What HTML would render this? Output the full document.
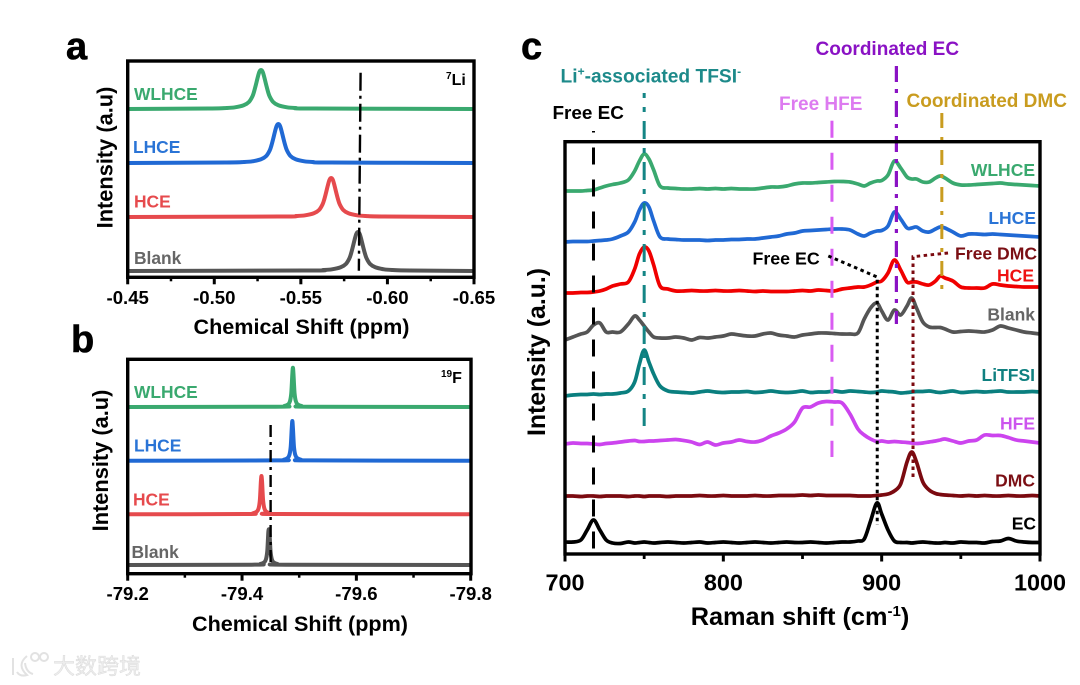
<!DOCTYPE html>
<html lang="en">
<head>
<meta charset="utf-8">
<title>NMR and Raman spectra of electrolytes</title>
<style>
html,body{margin:0;padding:0;background:#fff;}
body{width:1080px;height:685px;overflow:hidden;}
svg{display:block;}
text{font-family:"Liberation Sans","Noto Sans CJK SC",sans-serif;font-weight:bold;}
</style>
</head>
<body>
<svg id="figure" width="1080" height="685" viewBox="0 0 1080 685" xmlns="http://www.w3.org/2000/svg">
  <rect x="0" y="0" width="1080" height="685" fill="#ffffff"/>

  <text x="66" y="59" font-size="38" stroke="#000" stroke-width="0.6">a</text>
  <text x="71" y="352" font-size="38" stroke="#000" stroke-width="0.6">b</text>
  <text x="521" y="59" font-size="38" stroke="#000" stroke-width="0.6">c</text>

  <g id="panel-a"></g>
  <g id="panel-b"></g>
  <g id="panel-c"></g>

  <!-- Panel a static text -->
  <text transform="translate(112.5,157.5) rotate(-90)" text-anchor="middle" font-size="21.8">Intensity (a.u)</text>
  <text x="301.5" y="334" text-anchor="middle" font-size="21.6">Chemical Shift (ppm)</text>
  <text x="134" y="100" font-size="17.4" fill="#3aa96f">WLHCE</text>
  <text x="133" y="153" font-size="17.4" fill="#2a74d6">LHCE</text>
  <text x="134" y="207.5" font-size="17.4" fill="#e64a4d">HCE</text>
  <text x="134" y="264" font-size="17.4" fill="#666666">Blank</text>
  <text x="446" y="85" font-size="16"><tspan font-size="10" dy="-6">7</tspan><tspan dy="6">Li</tspan></text>

  <!-- Panel b static text -->
  <text transform="translate(108,460.5) rotate(-90)" text-anchor="middle" font-size="21.8">Intensity (a.u)</text>
  <text x="300" y="631" text-anchor="middle" font-size="21.6">Chemical Shift (ppm)</text>
  <text x="134" y="398" font-size="17.4" fill="#3aa96f">WLHCE</text>
  <text x="134" y="451.5" font-size="17.4" fill="#2a74d6">LHCE</text>
  <text x="133" y="505.5" font-size="17.4" fill="#e64a4d">HCE</text>
  <text x="131.5" y="558" font-size="17.4" fill="#666666">Blank</text>
  <text x="441" y="383" font-size="16"><tspan font-size="10" dy="-6">19</tspan><tspan dy="6">F</tspan></text>

  <!-- Panel c static text -->
  <text transform="translate(545,352) rotate(-90)" text-anchor="middle" font-size="24.8">Intensity (a.u.)</text>
  <text x="800" y="625" text-anchor="middle" font-size="25.3">Raman shift (cm<tspan font-size="15" dy="-9">-1</tspan><tspan dy="9">)</tspan></text>
  <text x="552.5" y="119" font-size="18.9">Free EC</text>
  <text x="560.5" y="82.5" font-size="19.2" fill="#1d8a8a">Li<tspan font-size="12" dy="-7">+</tspan><tspan dy="7">-associated TFSI</tspan><tspan font-size="12" dy="-7">-</tspan></text>
  <text x="779" y="110" font-size="19" fill="#dd7bf0">Free HFE</text>
  <text x="815.5" y="55" font-size="19" fill="#8a12c4">Coordinated EC</text>
  <text x="906.5" y="107" font-size="19" fill="#c99c1f">Coordinated DMC</text>
  <text x="752.5" y="264.5" font-size="17.8">Free EC</text>
  <text x="955" y="259.5" font-size="17.6" fill="#7b0f14">Free DMC</text>
  <text x="1035" y="176" text-anchor="end" font-size="17.5" fill="#3aa96f">WLHCE</text>
  <text x="1036" y="224" text-anchor="end" font-size="17.5" fill="#2a74d6">LHCE</text>
  <text x="1034" y="281.5" text-anchor="end" font-size="17.5" fill="#ee1111">HCE</text>
  <text x="1035" y="320.5" text-anchor="end" font-size="17.5" fill="#666666">Blank</text>
  <text x="1035" y="381" text-anchor="end" font-size="17.5" fill="#0f8080">LiTFSI</text>
  <text x="1035" y="429.5" text-anchor="end" font-size="17.5" fill="#cc55ee">HFE</text>
  <text x="1035" y="486.5" text-anchor="end" font-size="17.5" fill="#7b0f14">DMC</text>
  <text x="1036" y="529.5" text-anchor="end" font-size="17.5" fill="#000000">EC</text>

  <!-- Watermark -->
  <g>
    <g fill="none" stroke="#e2e2e2" stroke-width="2">
      <path d="M13 658 L13 675 M27 656 Q16 665 27 675 Q20 677 17 672 M25 663 Q26 672 33 674"/>
      <circle cx="35" cy="657" r="4"/>
      <circle cx="44" cy="657" r="4"/>
    </g>
    <text x="53" y="674" font-size="22" fill="#ececec" stroke="#d8d8d8" stroke-width="0.4" style="font-family:'Liberation Sans','Noto Sans CJK SC',sans-serif;font-weight:normal">大数跨境</text>
  </g>
</svg>

<script>
// ---------- Panel a data (7Li) ----------
const aWlhceShift=[-0.45,-0.497,-0.507,-0.512,-0.517,-0.52,-0.522,-0.523,-0.524,-0.525,-0.526,-0.527,-0.528,-0.529,-0.53,-0.531,-0.532,-0.534,-0.537,-0.542,-0.547,-0.557,-0.65];
const aWlhceIntensity=[168.3,168.8,169.3,170,172,175.3,180.8,185.8,192.3,199.3,205.3,207.3,205.3,199.3,192.3,185.8,180.8,175.3,172,170,169.3,168.8,168.3];
const aLhceShift=[-0.45,-0.507,-0.517,-0.522,-0.527,-0.53,-0.532,-0.533,-0.534,-0.535,-0.536,-0.537,-0.538,-0.539,-0.54,-0.541,-0.542,-0.544,-0.547,-0.552,-0.557,-0.567,-0.65];
const aLhceIntensity=[114.3,114.8,115.3,116,118,121.3,126.8,131.8,138.3,145.3,151.3,153.3,151.3,145.3,138.3,131.8,126.8,121.3,118,116,115.3,114.8,114.3];
const aHceShift=[-0.45,-0.5375,-0.5475,-0.5525,-0.5575,-0.5605,-0.5625,-0.5635,-0.5645,-0.5655,-0.5665,-0.5675,-0.5685,-0.5695,-0.5705,-0.5715,-0.5725,-0.5745,-0.5775,-0.5825,-0.5875,-0.5975,-0.65];
const aHceIntensity=[60.3,60.8,61.3,62,64,67.3,72.8,77.8,84.3,91.3,97.3,99.3,97.3,91.3,84.3,77.8,72.8,67.3,64,62,61.3,60.8,60.3];
const aBlankShift=[-0.45,-0.553,-0.563,-0.568,-0.573,-0.576,-0.578,-0.579,-0.58,-0.581,-0.582,-0.583,-0.584,-0.585,-0.586,-0.587,-0.588,-0.59,-0.593,-0.598,-0.603,-0.613,-0.65];
const aBlankIntensity=[6.3,6.8,7.3,8,10,13.3,18.8,23.8,30.3,37.3,43.3,45.3,43.3,37.3,30.3,23.8,18.8,13.3,10,8,7.3,6.8,6.3];
const aMajorTicks=[-0.45,-0.50,-0.55,-0.60,-0.65];
const aMinorTicks=[-0.475,-0.525,-0.575,-0.625];
const aTickLabels=["-0.45","-0.50","-0.55","-0.60","-0.65"];
const aRefShift=[-0.5845,-0.5835];
const aRefIntensity=[204.6,6.6];

// ---------- Panel b data (19F) ----------
const bWlhceShift=[-79.2,-79.459,-79.474,-79.481,-79.484,-79.486,-79.487,-79.488,-79.489,-79.49,-79.491,-79.492,-79.494,-79.497,-79.504,-79.519,-79.8];
const bWlhceIntensity=[166.7,167,167.7,169.5,172.7,179.7,188.7,199.7,206,199.7,188.7,179.7,172.7,169.5,167.7,167,166.7];
const bLhceShift=[-79.2,-79.458,-79.473,-79.48,-79.483,-79.485,-79.486,-79.487,-79.488,-79.489,-79.49,-79.491,-79.493,-79.496,-79.503,-79.518,-79.8];
const bLhceIntensity=[113,113.3,114,115.8,119,126,135,146,152.7,146,135,126,119,115.8,114,113.3,113];
const bHceShift=[-79.2,-79.404,-79.419,-79.426,-79.429,-79.431,-79.432,-79.433,-79.434,-79.435,-79.436,-79.437,-79.439,-79.442,-79.449,-79.464,-79.8];
const bHceIntensity=[59.4,59.7,60.4,62.2,65.4,72.4,81.4,92.4,97.7,92.4,81.4,72.4,65.4,62.2,60.4,59.7,59.4];
const bBlankShift=[-79.2,-79.417,-79.432,-79.439,-79.442,-79.444,-79.445,-79.446,-79.447,-79.448,-79.449,-79.45,-79.452,-79.455,-79.462,-79.477,-79.8];
const bBlankIntensity=[8.7,9,9.7,11.5,14.7,21.7,30.7,41.7,44.4,41.7,30.7,21.7,14.7,11.5,9.7,9,8.7];
const bMajorTicks=[-79.2,-79.4,-79.6,-79.8];
const bMinorTicks=[-79.3,-79.5,-79.7];
const bTickLabels=["-79.2","-79.4","-79.6","-79.8"];
const bRefShift=[-79.45,-79.45];
const bRefIntensity=[148.7,8.7];

// ---------- Panel c data (Raman) ----------
const ramanShift=[700,705,710,714,718,722,726,730,735,740,
744,747,750,753,756,760,765,770,775,780,
785,790,795,800,805,810,815,820,825,830,
835,840,845,850,855,860,865,870,875,880,
885,889,893,897,900,904,908,912,916,919,
922,926,930,934,937,940,945,950,955,960,
965,970,975,980,985,990,995,1000];
const ramanWlhce=[363,363,363,363.5,364,366,368,369.5,371,374,
383,393,400,395,384,368,366,365.5,365,365,
365.5,365,365.5,365,365.5,365,365,365,366,367,
367,368,370,371,371,371.5,372,372.5,372.5,372,
370,368,371,373,373.5,379,393,386,377,375,
375,372,372,376,378,376,371,369,369,369.5,
370,370.5,371,370,369.5,369,368.5,368];
const ramanLhce=[312,312.5,312.5,312.5,313,313.5,314,315,318,322,
332,344,351,347,333,317,315,314.5,314,314,
314,313.5,314,314,314.5,314.5,315,315,316,317,
318,320,321,323,323.5,324,324.5,325,325,324,
320,318,321,323,323.5,328,342,335,326,326,
327,323,322,325,327,326,322,318,320,320,
319.5,320,319.5,319,318.5,318,317.5,317];
const ramanHce=[261,261,261.5,261.5,262,263,265,268,270,272,
285,300,307,303,289,268,265,263,263,263.5,
263,263,263.5,263,263,263.5,263,262.5,263,262.5,
262.5,262.5,263,263.5,263,264,263.5,263,265,266,
267,267,269,272,273,281,294,284,272,272,
272,270,269,273,278,276,273,267,266,266,
266,270,269,268,267.5,267,267,267];
const ramanBlank=[214,217,220,222,229,231,222,222,222,230,
238,234,228,222,217,216,216,217,216,214,
216.5,216,217,218,220,219,218,218,220,221,
219,218,217,219,220,221,221,220.5,220,220,
221,235,246,251,243,234,244,239,248,256,
246,232,227,226.5,226.5,225,222,222.5,223,222.5,
222,224,228,226,224,222,221,220];
const ramanLitfsi=[158,159,159.5,159.5,160,159.5,160,160,161,163,
172,190,204,192,180,168,163,162,161.5,161,
162,163,162,161.5,162,162,162.5,161.5,162,163,
162,161.5,162,163,161.5,162,162,163,162,163,
162.5,162,161.5,162,163,162.5,162,161,161.5,162,
162.5,162.5,163,162,161.5,162,163,161.5,162,162.5,
162,162.5,163,162,162,162,162.5,162];
const ramanHfe=[110,111,110.5,110.5,110,109.5,110.5,111,112,113,
113.5,112.5,112.5,113,113,113.5,114,114.5,113.5,112,
109.5,112,109,111,112,114,112.5,112,114,118,
121,125,132,146,147,151,152.5,152,151,140,
125,119,115,112.5,113,112,112.5,112,111.5,111,
110.5,111,112,113,114,115,113,111,113,114,
119,118.5,118.5,116.5,114,113,112,111];
const ramanDmc=[58,58,57.5,58,58,57.5,58,58,58,57.5,
58,58,57.5,58,58,58,57.5,58,58,58,
58.5,58,58,58.5,58,58,58,58.5,58,58,
58.5,58.5,58.5,59,58.5,59,58.5,58.5,58.5,58.5,
58,58,58,58.5,59,60,63,70,92,102,
92,72,64,60.5,59.5,59,58.5,58,58.5,58,
58.5,58,58,58.5,58,58,58.5,58];
const ramanEc=[12,12,14,24,34,24,14,11,10.5,12,
11,11.5,12,11.5,11,11.5,12,11.5,11,11.5,
12,11,11.5,12,11.5,11,11.5,12,11.5,11,
11.5,12,11.5,11.5,12,11.5,11,11.5,12,12,
13,15,33,51,40,24,13,11.5,11.5,11,
11.5,12,11.5,11,11,11.5,11,12,11.5,11.5,
11,12.5,13,15.5,13,12,11.5,11.5];
const cMajorTicks=[700,800,900,1000];
const cMinorTicks=[750,850,950];
const cTickLabels=["700","800","900","1000"];
const refFreeEcShift=[718,718];
const refFreeEcIntensity=[423,5];
const refTfsiShift=[750,750];
const refTfsiIntensity=[128,461];
const refHfeShift=[868.6,868.6];
const refHfeIntensity=[433.3,97];
const refCoordEcShift=[909.3,909.3];
const refCoordEcIntensity=[488,230];
const refCoordDmcShift=[938,938];
const refCoordDmcIntensity=[441,257];
const guideEcShift=[866.3,897.2,897.2];
const guideEcIntensity=[298,277,29];
const guideDmcShift=[919.8,919.8,943.4];
const guideDmcIntensity=[77,297.3,301.3];

const SVGNS="http://www.w3.org/2000/svg";

function linear(d0,d1,r0,r1){
  return function(v){return r0+(v-d0)*(r1-r0)/(d1-d0);};
}
function smoothPath(xs,ys){
  let d="M"+xs[0].toFixed(2)+" "+ys[0].toFixed(2);
  for(let i=0;i<xs.length-1;i++){
    const i0=Math.max(0,i-1),i3=Math.min(xs.length-1,i+2);
    const cx1=xs[i]+(xs[i+1]-xs[i0])/6,cy1=ys[i]+(ys[i+1]-ys[i0])/6;
    const cx2=xs[i+1]-(xs[i3]-xs[i])/6,cy2=ys[i+1]-(ys[i3]-ys[i])/6;
    d+=" C"+cx1.toFixed(2)+" "+cy1.toFixed(2)+" "+cx2.toFixed(2)+" "+cy2.toFixed(2)+" "+xs[i+1].toFixed(2)+" "+ys[i+1].toFixed(2);
  }
  return d;
}
function drawCurve(parent,name,shift,vals,xf,yf,color,width){
  const el=document.createElementNS(SVGNS,"path");
  
  
  el.setAttribute("d",smoothPath(shift.map(xf),vals.map(yf)));
  el.setAttribute("fill","none");
  el.setAttribute("stroke",color);
  el.setAttribute("stroke-width",width);
  el.setAttribute("stroke-linejoin","round");
  parent.appendChild(el);
}
function drawRef(parent,name,shift,vals,xf,yf,color,width,dash,offset){
  const el=document.createElementNS(SVGNS,"polyline");
  
  
  el.setAttribute("points",shift.map(function(s,i){return xf(s).toFixed(2)+","+yf(vals[i]).toFixed(2);}).join(" "));
  el.setAttribute("fill","none");
  el.setAttribute("stroke",color);
  el.setAttribute("stroke-width",width);
  el.setAttribute("stroke-dasharray",dash);
  el.setAttribute("stroke-dashoffset",offset||0);
  parent.appendChild(el);
}
function drawFrame(parent,name,l,t,r,b,width){
  const el=document.createElementNS(SVGNS,"rect");
  
  
  el.setAttribute("x",l);
  el.setAttribute("y",t);
  el.setAttribute("width",r-l);
  el.setAttribute("height",b-t);
  el.setAttribute("fill","none");
  el.setAttribute("stroke","#000");
  el.setAttribute("stroke-width",width);
  parent.appendChild(el);
}
function drawTicks(parent,prefix,values,xf,bottom,len,width){
  values.forEach(function(v){
    const el=document.createElementNS(SVGNS,"line");
    
    
    el.setAttribute("x1",xf(v));
    el.setAttribute("x2",xf(v));
    el.setAttribute("y1",bottom);
    el.setAttribute("y2",bottom+len);
    el.setAttribute("stroke","#000");
    el.setAttribute("stroke-width",width);
    parent.appendChild(el);
  });
}
function drawTickLabels(parent,prefix,values,labels,xf,baseline,size){
  values.forEach(function(v,i){
    const el=document.createElementNS(SVGNS,"text");
    
    
    el.setAttribute("x",xf(v));
    el.setAttribute("y",baseline);
    el.setAttribute("text-anchor","middle");
    el.setAttribute("font-size",size);
    el.textContent=labels[i];
    parent.appendChild(el);
  });
}

// Panel a
(function(){
  const g=document.getElementById("panel-a");
  const x=linear(-0.45,-0.65,127.7,474);
  const y=linear(0,216.3,277.3,61);
  drawCurve(g,"panel-a-series-wlhce",aWlhceShift,aWlhceIntensity,x,y,"#3aa96f",4);
  drawCurve(g,"panel-a-series-lhce",aLhceShift,aLhceIntensity,x,y,"#2069d4",4);
  drawCurve(g,"panel-a-series-hce",aHceShift,aHceIntensity,x,y,"#e64a4d",4);
  drawCurve(g,"panel-a-series-blank",aBlankShift,aBlankIntensity,x,y,"#555555",4);
  drawRef(g,"panel-a-reference-line",aRefShift,aRefIntensity,x,y,"#000","2.4","18 5 3 5");
  drawFrame(g,"panel-a-frame",127.7,61,474,277.3,3.4);
  drawTicks(g,"panel-a-x-major",aMajorTicks,x,277.3,7,3);
  drawTicks(g,"panel-a-x-minor",aMinorTicks,x,277.3,4,2.5);
  drawTickLabels(g,"panel-a-x",aMajorTicks,aTickLabels,x,304,18.6);
})();

// Panel b
(function(){
  const g=document.getElementById("panel-b");
  const x=linear(-79.2,-79.8,127.7,470.7);
  const y=linear(0,214.4,573.7,359.3);
  drawCurve(g,"panel-b-series-wlhce",bWlhceShift,bWlhceIntensity,x,y,"#3aa96f",4);
  drawCurve(g,"panel-b-series-lhce",bLhceShift,bLhceIntensity,x,y,"#2069d4",4);
  drawCurve(g,"panel-b-series-hce",bHceShift,bHceIntensity,x,y,"#e64a4d",4);
  drawCurve(g,"panel-b-series-blank",bBlankShift,bBlankIntensity,x,y,"#555555",4);
  drawRef(g,"panel-b-reference-line",bRefShift,bRefIntensity,x,y,"#000","2.4","12 5 3 5");
  drawFrame(g,"panel-b-frame",127.7,359.3,471,573.7,3.4);
  drawTicks(g,"panel-b-x-major",bMajorTicks,x,573.7,7,3);
  drawTicks(g,"panel-b-x-minor",bMinorTicks,x,573.7,4,2.5);
  drawTickLabels(g,"panel-b-x",bMajorTicks,bTickLabels,x,600,18.6);
})();

// Panel c
(function(){
  const g=document.getElementById("panel-c");
  const x=linear(700,1000,565,1040);
  const y=linear(0,412.3,554,141.7);
  drawCurve(g,"panel-c-series-wlhce",ramanShift,ramanWlhce,x,y,"#3aa96f",3.7);
  drawCurve(g,"panel-c-series-lhce",ramanShift,ramanLhce,x,y,"#2069d4",3.7);
  drawCurve(g,"panel-c-series-hce",ramanShift,ramanHce,x,y,"#f00000",3.7);
  drawCurve(g,"panel-c-series-blank",ramanShift,ramanBlank,x,y,"#555555",3.7);
  drawCurve(g,"panel-c-series-litfsi",ramanShift,ramanLitfsi,x,y,"#0a7f7f",3.7);
  drawCurve(g,"panel-c-series-hfe",ramanShift,ramanHfe,x,y,"#cc44ee",3.7);
  drawCurve(g,"panel-c-series-dmc",ramanShift,ramanDmc,x,y,"#7b0a10",3.7);
  drawCurve(g,"panel-c-series-ec",ramanShift,ramanEc,x,y,"#000000",3.7);
  drawRef(g,"reference-free-ec",refFreeEcShift,refFreeEcIntensity,x,y,"#000","3","17 15",15.5);
  drawRef(g,"reference-li-tfsi",refTfsiShift,refTfsiIntensity,x,y,"#148585","3","18 9 5 9");
  drawRef(g,"reference-free-hfe",refHfeShift,refHfeIntensity,x,y,"#d95cf2","3","17 15");
  drawRef(g,"reference-coordinated-ec",refCoordEcShift,refCoordEcIntensity,x,y,"#8a12c4","3.2","16 7 4 8");
  drawRef(g,"reference-coordinated-dmc",refCoordDmcShift,refCoordDmcIntensity,x,y,"#c99c1f","3","15 9 4 9");
  drawRef(g,"guide-free-ec",guideEcShift,guideEcIntensity,x,y,"#000","3","3.5 3.5");
  drawRef(g,"guide-free-dmc",guideDmcShift,guideDmcIntensity,x,y,"#7b0a10","3","3.5 3.5");
  drawFrame(g,"panel-c-frame",565,141.7,1040,554,3.4);
  drawTicks(g,"panel-c-x-major",cMajorTicks,x,554,7.5,3);
  drawTicks(g,"panel-c-x-minor",cMinorTicks,x,554,5,2.8);
  drawTickLabels(g,"panel-c-x",cMajorTicks,cTickLabels,x,590.5,23.4);
})();
</script>
</body>
</html>
